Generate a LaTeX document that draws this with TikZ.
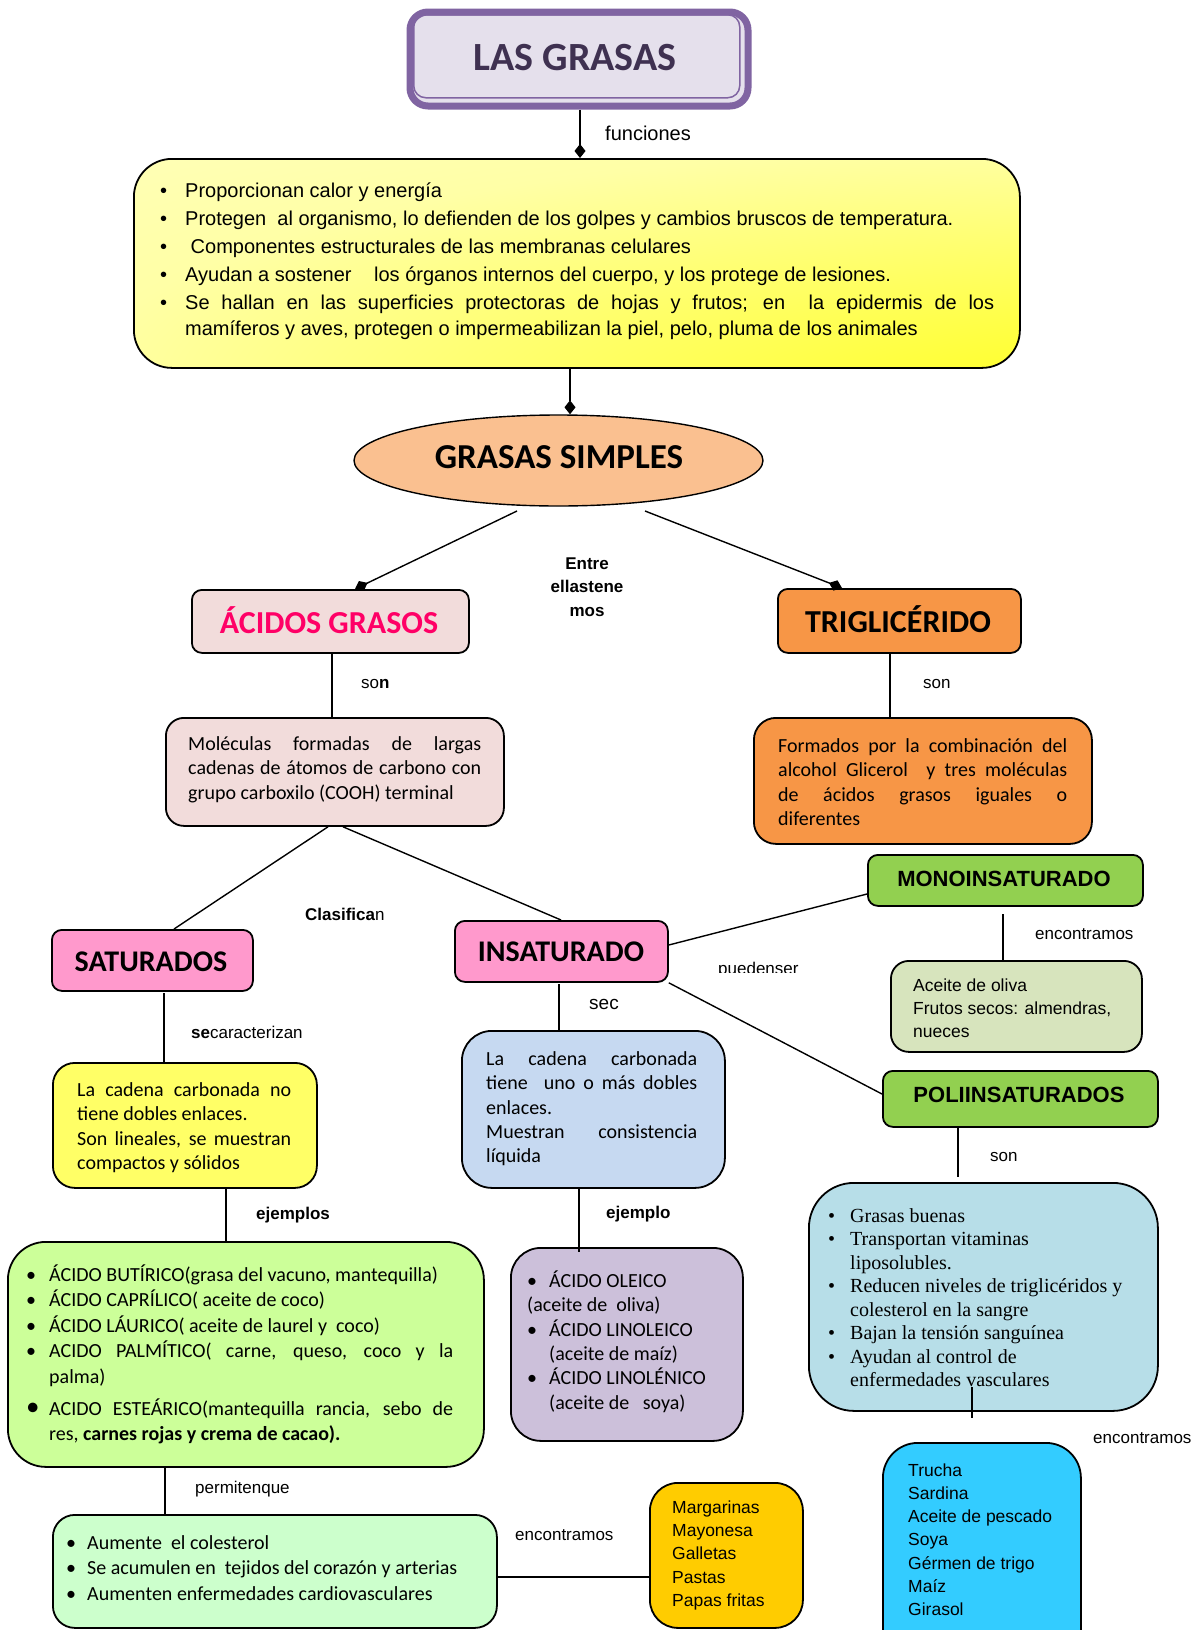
\documentclass[tikz,border=0pt]{standalone}
\usepackage{fontspec}
\setmainfont{Carlito}
\newfontfamily\ars{Liberation Sans}
\newfontfamily\tnr{Liberation Serif}
\usetikzlibrary{arrows.meta,shapes.geometric}

\definecolor{purp}{HTML}{8064A2}
\definecolor{lav}{HTML}{E5E0EC}
\definecolor{titletext}{HTML}{3F3151}
\definecolor{paleyel}{HTML}{FFFFD4}
\definecolor{midyel}{HTML}{FFFFA6}
\definecolor{fullyel}{HTML}{FFFF00}
\definecolor{peach}{HTML}{FAC090}
\definecolor{rosa}{HTML}{F2DCDB}
\definecolor{magenta}{HTML}{FF0066}
\definecolor{naranja}{HTML}{F79646}
\definecolor{pink}{HTML}{FF99CC}
\definecolor{verde}{HTML}{92D050}
\definecolor{oliva}{HTML}{D7E4BD}
\definecolor{celeste}{HTML}{B7DEE8}
\definecolor{cian}{HTML}{33CCFF}
\definecolor{amarillo}{HTML}{FFFF66}
\definecolor{azulclaro}{HTML}{C6D9F1}
\definecolor{lima}{HTML}{CCFF99}
\definecolor{lila}{HTML}{CCC0DA}
\definecolor{menta}{HTML}{CCFFCC}
\definecolor{oro}{HTML}{FFCC00}

% glow of full yellow from the lower right corner, fading to pale yellow
\pgfdeclareradialshading{cornerglow}{\pgfpoint{50bp}{-50bp}}{%
  color(0bp)=(fullyel); color(22bp)=(fullyel!70!midyel); color(55bp)=(midyel);
  color(90bp)=(paleyel); color(120bp)=(paleyel)}

\newcommand\fs[2]{\fontsize{#1pt}{#2pt}\selectfont}
% paragraph set-up inside text blocks: natural interword glue of the current font
\newcommand\setpar{\parindent=0pt\parskip=0pt\spaceskip=0pt\xspaceskip=0pt\relax}
% justified line
\newcommand\jl[1]{\makebox[\linewidth][s]{#1}\par}
% bullet line, justified bullet line, continuation line
\newcommand\bitem[2]{\makebox[#1][l]{\textbullet}#2\par}
\newcommand\bjitem[2]{\makebox[#1][l]{\textbullet}\makebox[\dimexpr\linewidth-#1\relax][s]{#2}\par}
\newcommand\citem[2]{\hspace*{#1}#2\par}

\tikzset{
  shp/.style={draw=black, line width=1.8pt, inner sep=0pt, anchor=north west},
  conn/.style={line width=1.4pt, draw=black},
  dconn/.style={conn, -{Diamond[length=14pt,width=11pt]}},
  txt/.style={anchor=north west, inner sep=0pt, align=left},
  lbl/.style={anchor=base west, inner sep=0pt},
  hd/.style={anchor=base, inner sep=0pt},
}

\begin{document}
\begin{tikzpicture}[x=1pt, y=-1pt, line join=round]
\useasboundingbox (0,0) rectangle (1202,1630);
\fill[white] (0,0) rectangle (1202,1630);
\clip (0,0) rectangle (1202,1630);

% ---------- title ----------
\node[draw=purp, line width=7pt, fill=lav, rounded corners=18pt, minimum width=338pt,
      minimum height=94pt, inner sep=0pt, anchor=north west] (title) at (406.5,8.5) {};
\node[draw=purp, line width=1.5pt, rounded corners=12pt, minimum width=326pt,
      minimum height=83pt, inner sep=0pt, anchor=north west] (titlein) at (413,14) {};
\node[hd, font=\bfseries\fs{40}{48}, text=titletext] (ttitle) at (575,70) {LAS GRASAS};

% ---------- functions box ----------
\node[shp, rounded corners=38pt, shading=cornerglow,
      minimum width=886pt, minimum height=209pt] (topbox) at (133,158) {};
\node[txt, text width=834pt] (ttop) at (160,177.4) {\ars\fs{20}{28}\setpar
  \strut\bitem{25pt}{Proporcionan calor y energía}
  \bitem{25pt}{Protegen\ \ al organismo, lo defienden de los golpes y cambios bruscos de temperatura.}
  \bitem{25pt}{\ Componentes estructurales de las membranas celulares}
  \bitem{25pt}{Ayudan a sostener \hspace{17pt}los órganos internos del cuerpo, y los protege de lesiones.}
  \bjitem{25pt}{Se hallan en las superficies protectoras de hojas y frutos; en \ la epidermis de los}
  \vskip-2pt
  \citem{25pt}{mamíferos y aves, protegen o impermeabilizan la piel, pelo, pluma de los animales}};

% ---------- grasas simples ----------
\node[draw=black, line width=1.4pt, ellipse, fill=peach, minimum width=409pt,
      minimum height=91pt, inner sep=0pt] (simples) at (558.5,460.5) {};
\node[hd, font=\bfseries\fs{35}{40}] (tsimp) at (559,468) {GRASAS SIMPLES};

% ---------- acidos grasos ----------
\node[shp, rounded corners=10pt, fill=rosa, minimum width=277pt, minimum height=63pt] (acidos) at (191,589) {};
\node[hd, font=\bfseries\fs{32}{36}, text=magenta] (tacid) at (329,633) {ÁCIDOS GRASOS};
\node[shp, rounded corners=18pt, fill=rosa, minimum width=338pt, minimum height=108pt] (molec) at (165,717) {};
\node[txt, text width=293pt] (tmolec) at (188,733) {\fs{20}{24.4}\setpar
  \strut\jl{Moléculas formadas de largas}
  \jl{cadenas de átomos de carbono con}
  grupo carboxilo (COOH) terminal\par};

% ---------- trigliceridos ----------
\node[shp, rounded corners=10pt, fill=naranja, minimum width=243pt, minimum height=64pt] (trig) at (777,588) {};
\node[hd, font=\bfseries\fs{32}{38}] (ttrig) at (898,632) {TRIGLICÉRIDO};
\node[shp, rounded corners=22pt, fill=naranja, minimum width=338pt, minimum height=126pt] (trigd) at (753,717) {};
\node[txt, text width=289pt] (ttrigd) at (778,735) {\fs{20}{24.4}\setpar
  \strut\jl{Formados por la combinación del}
  \jl{alcohol Glicerol\ \ y tres moléculas}
  \jl{de ácidos grasos iguales o}
  diferentes\par};

% ---------- saturados ----------
\node[shp, rounded corners=10pt, fill=pink, minimum width=201pt, minimum height=61pt] (sat) at (51,929) {};
\node[hd, font=\bfseries\fs{30}{34}] (tsat) at (151,971) {SATURADOS};
\node[shp, rounded corners=22pt, fill=amarillo, minimum width=264pt, minimum height=125pt] (satd) at (52,1062) {};
\node[txt, text width=214pt] (tsatd) at (77,1079) {\fs{20}{24.4}\setpar
  \strut\jl{La cadena carbonada no}
  tiene dobles enlaces.\par
  \jl{Son lineales, se muestran}
  compactos y sólidos\par};
\node[shp, rounded corners=38pt, fill=lima, minimum width=476pt, minimum height=225pt] (ejsat) at (7,1241) {};
\node[txt, text width=427pt] (tejsat) at (26,1263.2) {\fs{20}{25.5}\setpar
  \strut\bitem{23pt}{ÁCIDO BUTÍRICO(grasa del vacuno, mantequilla)}
  \bitem{23pt}{ÁCIDO CAPRÍLICO( aceite de coco)}
  \bitem{23pt}{ÁCIDO LÁURICO( aceite de laurel y\ \ coco)}
  \bjitem{23pt}{ACIDO PALMÍTICO( carne, queso, coco y la}
  \citem{23pt}{palma)}
  \vskip6.5pt
  \makebox[23pt][l]{\fs{27}{25.5}\textbullet}\makebox[\dimexpr\linewidth-23pt\relax][s]{ACIDO ESTEÁRICO(mantequilla rancia, sebo de}\par
  \citem{23pt}{res, \textbf{carnes rojas y crema de cacao).}}};
\node[shp, rounded corners=22pt, fill=menta, minimum width=444pt, minimum height=113pt] (efect) at (52,1514) {};
\node[txt, text width=420pt] (tefect) at (66,1531.2) {\fs{20}{25.5}\setpar
  \strut\bitem{21pt}{Aumente\ \ el colesterol}
  \bitem{21pt}{Se acumulen en\ \ tejidos del corazón y arterias}
  \bitem{21pt}{Aumenten enfermedades cardiovasculares}};
\node[shp, rounded corners=28pt, fill=oro, minimum width=153pt, minimum height=145pt] (alim) at (649,1482) {};
\node[txt, text width=125pt] (talim) at (672,1496.7) {\ars\fs{17.5}{23.3}\setpar
  \strut Margarinas\par Mayonesa\par Galletas\par Pastas\par Papas fritas\par};

% ---------- insaturados ----------
\node[shp, rounded corners=10pt, fill=pink, minimum width=213pt, minimum height=61pt] (insat) at (454,920) {};
\node[hd, font=\bfseries\fs{30}{34}] (tins) at (561,961) {INSATURADO};
\node[shp, rounded corners=30pt, fill=azulclaro, minimum width=263pt, minimum height=157pt] (insd) at (461,1030) {};
\node[txt, text width=211pt] (tinsd) at (486,1048) {\fs{20}{24.4}\setpar
  \strut\jl{La cadena carbonada}
  \jl{tiene\ \ uno o más dobles}
  enlaces.\par
  \jl{Muestran consistencia}
  líquida\par};
\node[shp, rounded corners=30pt, fill=lila, minimum width=232pt, minimum height=193pt] (ejins) at (510,1247) {};
\node[txt, text width=205pt] (tejins) at (527,1270) {\fs{20}{24.4}\setpar
  \strut\bitem{22pt}{ÁCIDO OLEICO}
  (aceite de\ \ oliva)\par
  \bitem{22pt}{ÁCIDO LINOLEICO}
  \citem{22pt}{(aceite de maíz)}
  \bitem{22pt}{ÁCIDO LINOLÉNICO}
  \citem{22pt}{(aceite de\ \ \ soya)}};

% ---------- mono / poli ----------
\node[shp, rounded corners=10pt, fill=verde, minimum width=275pt, minimum height=51pt] (mono) at (867,854) {};
\node[hd, font=\ars\bfseries\fs{22}{26}] (tmono) at (1004,886) {MONOINSATURADO};
\node[shp, rounded corners=18pt, fill=oliva, minimum width=251pt, minimum height=91pt] (aceite) at (890,960) {};
\node[txt, text width=225pt] (tacei) at (913,974.9) {\ars\fs{17.5}{23}\setpar
  \strut Aceite de oliva\par Frutos secos: almendras,\par nueces\par};
\node[shp, rounded corners=10pt, fill=verde, minimum width=275pt, minimum height=56pt] (poli) at (882,1070) {};
\node[hd, font=\ars\bfseries\fs{22}{26}] (tpoli) at (1019,1102) {POLIINSATURADOS};
\node[shp, rounded corners=45pt, fill=celeste, minimum width=349pt, minimum height=228pt] (blist) at (808,1182) {};
\node[txt, text width=320pt] (tblist) at (828,1205.5) {\tnr\fs{20}{23.5}\setpar
  \strut\bitem{22pt}{Grasas buenas}
  \bitem{22pt}{Transportan vitaminas}
  \citem{22pt}{liposolubles.}
  \bitem{22pt}{Reducen niveles de triglicéridos y}
  \citem{22pt}{colesterol en la sangre}
  \bitem{22pt}{Bajan la tensión sanguínea}
  \bitem{22pt}{Ayudan al control de}
  \citem{22pt}{enfermedades vasculares}};
\node[shp, rounded corners=35pt, fill=cian, minimum width=198pt, minimum height=230pt] (trucha) at (882,1442) {};
\node[txt, text width=165pt] (ttruch) at (908,1459.8) {\ars\fs{17.5}{23.2}\setpar
  \strut Trucha\par Sardina\par Aceite de pescado\par Soya\par Gérmen de trigo\par Maíz\par Girasol\par};

% ---------- connector ends that stop short of a box ----------
\coordinate (simA) at (517,511);
\coordinate (simB) at (645,511);
\coordinate (monoB) at (1003,914);
\coordinate (poliB) at (958,1177);
\coordinate (blistB) at (972,1387);
\coordinate (truchaT) at (972,1418);
\coordinate (satB) at (164,993);
\coordinate (insatB) at (559,984);
\coordinate (ejinsT) at (579,1252);

% ---------- connectors ----------
\draw[dconn] (title.south -| 580,0) -- (topbox.north -| 580,0);
\draw[dconn] (topbox.south -| 570,0) -- (simples.north -| 570,0);
\draw[dconn] (simA) -- (acidos.north -| 355,0);
\draw[dconn] (simB) -- (trig.north -| 842,0);
\draw[conn] (acidos.south -| 332,0) -- (molec.north -| 332,0);
\draw[conn] (molec.south -| 328,0) -- (sat.north -| 174,0);
\draw[conn] (molec.south -| 343,0) -- (insat.north -| 561,0);
\draw[conn] (trig.south -| 890,0) -- (trigd.north -| 890,0);
\draw[conn] (insat.east |- 0,945) -- (mono.west |- 0,894);
\draw[conn] (insat.south east) -- (poli.west |- 0,1094);
\draw[conn] (monoB) -- (aceite.north -| 1003,0);
\draw[conn] (poli.south -| 958,0) -- (poliB);
\draw[conn] (blistB) -- (truchaT);
\draw[conn] (satB) -- (satd.north -| 164,0);
\draw[conn] (insatB) -- (insd.north -| 559,0);
\draw[conn] (satd.south -| 226,0) -- (ejsat.north -| 226,0);
\draw[conn] (insd.south -| 579,0) -- (ejinsT);
\draw[conn] (ejsat.south -| 165,0) -- (efect.north -| 165,0);
\draw[conn] (efect.east |- 0,1577) -- (alim.west |- 0,1577);

% ---------- connector labels ----------
\node[lbl, font=\ars\fs{20}{24}] (lfun) at (605,140) {funciones};
\node[anchor=north, inner sep=0pt, text width=110pt, align=center,
      font=\ars\bfseries\fs{17}{23.5}] (lentre) at (587,552.5) {\strut Entre\par ellastene\par mos};
\node[lbl, font=\ars\fs{17}{20}] (lson1) at (361,688) {so\textbf{n}};
\node[lbl, font=\ars\fs{17}{20}] (lson2) at (923,688) {son};
\node[lbl, font=\ars\fs{17}{20}] (lclas) at (305,920) {\textbf{Clasifica}n};
\node[lbl, font=\ars\fs{17}{20}] (lsecar) at (191,1038) {\textbf{se}caracterizan};
\node[lbl, font=\ars\fs{19}{22}] (lsec) at (589,1009) {sec};
\begin{scope}
  \clip (700,950) rectangle (830,972.5);
  \node[lbl, font=\ars\fs{17}{20}] (lpued) at (718,974) {puedenser};
\end{scope}
\node[lbl, font=\ars\fs{17}{20}] (lenc1) at (1035,939) {encontramos};
\node[lbl, font=\ars\fs{17}{20}] (lson3) at (990,1161) {son};
\node[lbl, font=\ars\bfseries\fs{17}{20}] (lejs) at (256,1219) {ejemplos};
\node[lbl, font=\ars\bfseries\fs{17}{20}] (leji) at (606,1218) {ejemplo};
\node[lbl, font=\ars\fs{17}{20}] (lperm) at (195,1493) {permitenque};
\node[lbl, font=\ars\fs{17}{20}] (lenc2) at (515,1540) {encontramos};
\node[lbl, font=\ars\fs{17}{20}] (lenc3) at (1093,1443) {encontramos};
\end{tikzpicture}
\end{document}
